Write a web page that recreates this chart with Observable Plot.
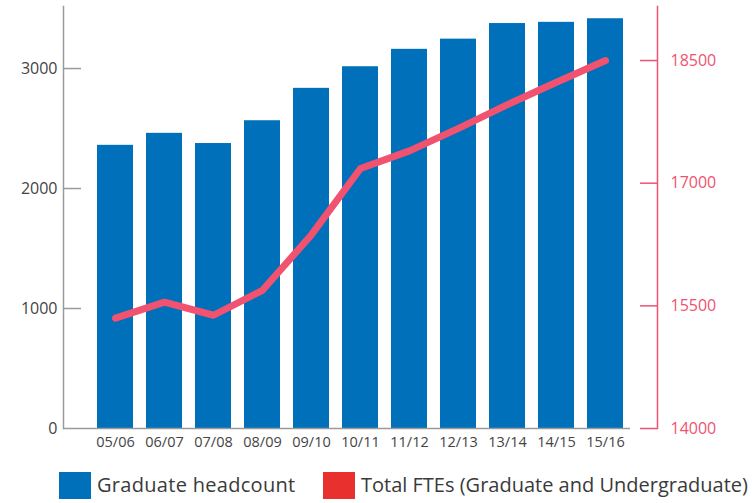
<!DOCTYPE html>
<html><head><meta charset="utf-8">
<script src="https://cdn.jsdelivr.net/npm/d3@7"></script>
<script src="https://cdn.jsdelivr.net/npm/@observablehq/plot@0.6"></script>
<style>
html,body{margin:0;padding:0;background:#fff;font-family:"Open Sans",sans-serif;}
#wrap{position:relative;width:753px;height:503px;overflow:hidden;}
.sw{position:absolute;top:472px;width:32px;height:27px;}
.lt{position:absolute;top:470px;font-size:20px;color:#3a3a3a;white-space:nowrap;line-height:30px;}
</style></head><body>
<div id="wrap"><div id="chart"></div>
<div class="sw" style="left:59px;background:#0070ba"></div>
<div class="lt" id="l1" style="left:97px;letter-spacing:0.3px">Graduate headcount</div>
<div class="sw" style="left:323px;background:#e8302f"></div>
<div class="lt" id="l2" style="left:361px">Total FTEs (Graduate and Undergraduate)</div>
</div>
<script>
const years = ["05/06","06/07","07/08","08/09","09/10","10/11","11/12","12/13","13/14","14/15","15/16"];
const headcount = [2360, 2460, 2375, 2565, 2835, 3015, 3160, 3245, 3375, 3385, 3415];
const fte = [15350, 15545, 15385, 15690, 16370, 17180, 17395, 17670, 17960, 18235, 18500];
const leftTicks = [0, 1000, 2000, 3000];
const rightTicks = [14000, 15500, 17000, 18500];

const fteMin = 14000, fteScale = 3066.7 / 4500;
const toLeft = v => (v - fteMin) * fteScale;
const fromLeft = v => Math.round((v / fteScale + fteMin) / 100) * 100;
const data = years.map((y, i) => ({year: y, hc: headcount[i], fte: fte[i]}));
const blue = "#0070ba", pink = "#f0526f", gray = "#9a9a9a";
const W = 753, H = 460, mL = 63, mR = 96, mT = 6, mB = 32;
const innerW = W - mL - mR;

const chart = Plot.plot({
  width: W, height: H, marginTop: mT, marginBottom: mB, marginLeft: mL, marginRight: mR,
  style: {fontFamily: "'Open Sans', sans-serif", background: "white", overflow: "visible"},
  x: {domain: years, paddingInner: 0.265, paddingOuter: 0.69, axis: null, label: null},
  y: {domain: [0, 3517], axis: null, label: null},
  marks: [
    Plot.barY(data, {x: "year", y: "hc", fill: blue}),
    Plot.lineY(data, {x: "year", y: d => toLeft(d.fte), stroke: pink, strokeWidth: 7, strokeLinecap: "round", strokeLinejoin: "round"}),
    Plot.frame({anchor: "left", stroke: gray, strokeWidth: 1.5}),
    Plot.ruleY([0], {stroke: gray, strokeWidth: 1.5, insetRight: 27}),
    Plot.ruleY(leftTicks.slice(1), {stroke: gray, strokeWidth: 1.5, insetRight: innerW - 18}),
    Plot.axisY(leftTicks, {anchor: "left", label: null, tickSize: 0, tickPadding: 6, fontSize: 16, fill: "#444", tickFormat: d => String(d)}),
    Plot.frame({anchor: "right", stroke: pink, strokeWidth: 1.5}),
    Plot.ruleY(rightTicks.map(toLeft), {stroke: pink, strokeWidth: 1.5, insetLeft: innerW - 17}),
    Plot.axisY(rightTicks.map(toLeft), {anchor: "right", label: null, tickSize: 0, tickPadding: 13, fontSize: 16, fill: pink, tickFormat: v => String(fromLeft(v))}),
    Plot.axisX({anchor: "bottom", label: null, tickSize: 0, tickPadding: 8, fontSize: 14.5, fill: "#444"})
  ]
});
document.getElementById("chart").appendChild(chart);
</script>
</body></html>
